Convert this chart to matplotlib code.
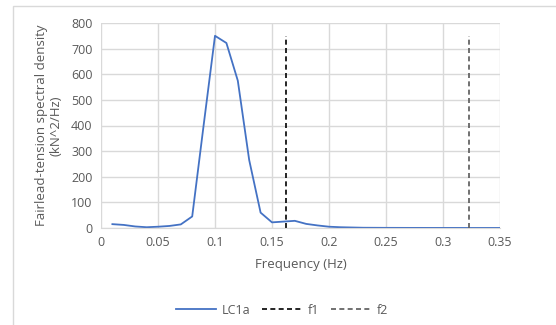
import matplotlib.pyplot as plt

# spectral density, LC1a
freq = [0.01, 0.02, 0.03, 0.04, 0.05, 0.06, 0.07, 0.08, 0.09, 0.10,
        0.11, 0.12, 0.13, 0.14, 0.15, 0.16, 0.17, 0.18, 0.19, 0.20,
        0.21, 0.22, 0.23, 0.24, 0.25, 0.26, 0.27, 0.28, 0.29, 0.30,
        0.31, 0.32, 0.33, 0.34, 0.35]
psd = [15, 12, 6, 3, 5, 8, 14, 45, 400, 750,
       722, 575, 265, 60, 22, 25, 28, 16, 10, 5,
       3, 2, 1, 0.8, 0.6, 0.5, 0.4, 0.4, 0.3, 0.3,
       0.3, 0.2, 0.2, 0.2, 0.2]
f1 = 0.162
f2 = 0.323
f_line_top = 750

plt.rcParams['font.family'] = ['Open Sans', 'DejaVu Sans']
txt = '#595959'

fig = plt.figure(figsize=(5.56, 3.25), dpi=100)
# chart border (only left and top edges fall inside the image)
fig.patches.append(plt.Rectangle((13 / 556, -0.1), 1.0, 1.1 - 6 / 325,
                                 transform=fig.transFigure, fill=False,
                                 edgecolor='#D9D9D9', linewidth=1))
ax = fig.add_axes([101 / 556, 1 - 228 / 325, 399 / 556, 205 / 325])

ax.plot(freq, psd, color='#4472C4', linewidth=1.3, label='LC1a')
ax.plot([f1, f1], [0, f_line_top], color='black', linewidth=1.2,
        linestyle=(0, (3, 2)), label='f1')
ax.plot([f2, f2], [0, f_line_top], color='#595959', linewidth=1.2,
        linestyle=(0, (3, 2)), label='f2')

ax.set_xlim(0, 0.35)
ax.set_ylim(0, 800)
ax.set_xticks([0, 0.05, 0.1, 0.15, 0.2, 0.25, 0.3, 0.35])
ax.set_xticklabels(['0', '0.05', '0.1', '0.15', '0.2', '0.25', '0.3', '0.35'])
ax.set_yticks(range(0, 801, 100))
ax.grid(True, color='#D9D9D9', linewidth=1)
ax.set_axisbelow(True)
for s in ['top', 'right', 'left']:
    ax.spines[s].set_visible(False)
ax.spines['bottom'].set_color('#D9D9D9')
ax.tick_params(length=0, labelsize=9, colors=txt, pad=6)

ax.set_xlabel('Frequency (Hz)', fontsize=9.5, color=txt, labelpad=6)
ax.set_ylabel('Fairlead-tension spectral density\n(kN^2/Hz)', fontsize=9.5,
              color=txt, labelpad=6)

leg = ax.legend(loc='center', bbox_to_anchor=(282 / 556, 15 / 325),
                bbox_transform=fig.transFigure, ncol=3, frameon=False,
                fontsize=9, handlelength=3.2, columnspacing=0.9,
                handletextpad=0.5)
for t in leg.get_texts():
    t.set_color(txt)

fig.savefig('out.png', dpi=100)
